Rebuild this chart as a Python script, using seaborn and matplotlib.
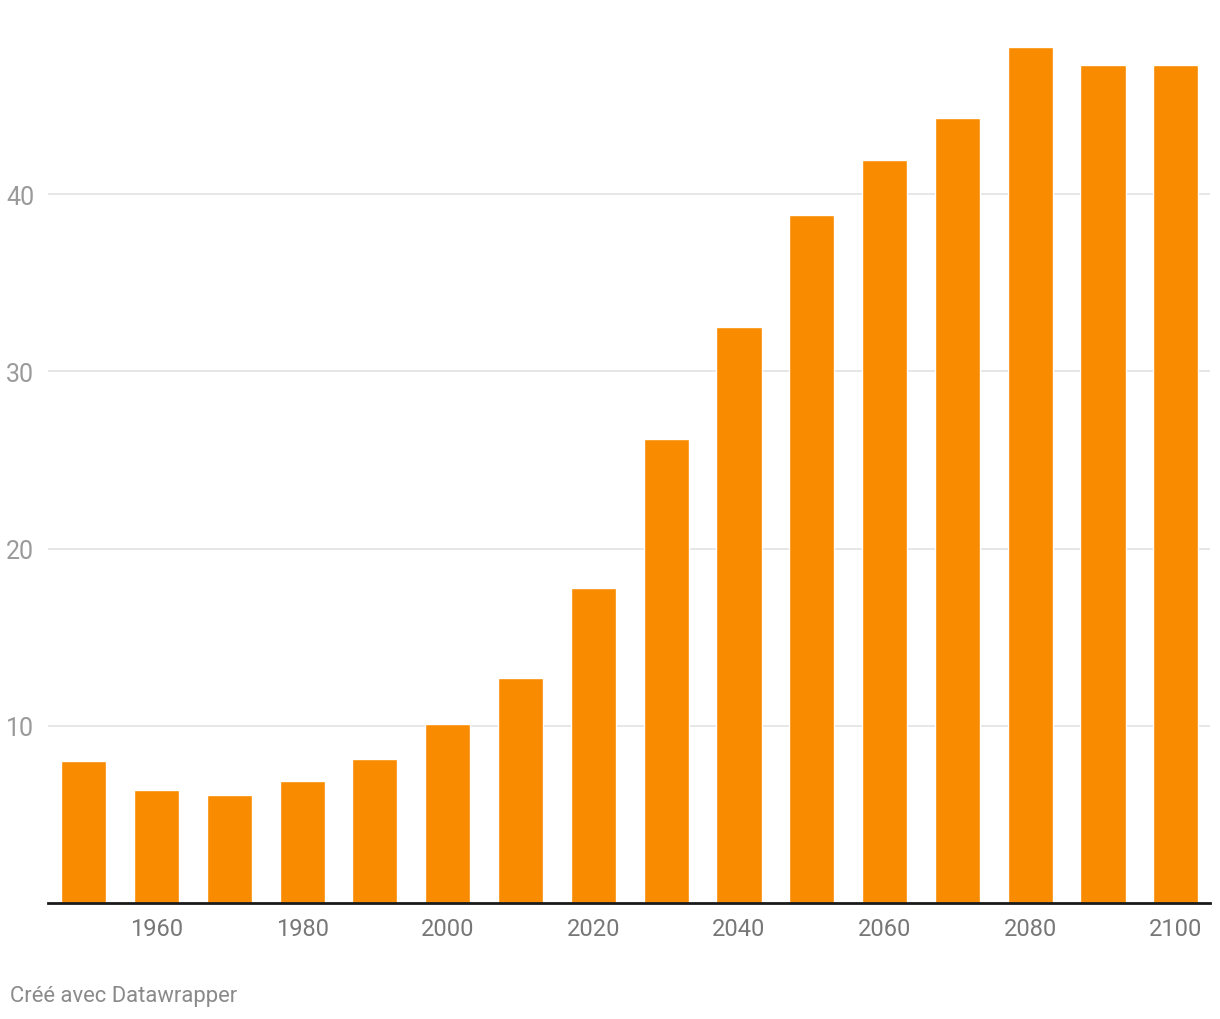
import matplotlib.pyplot as plt
import seaborn as sns
import pandas as pd

# Data
years = [1950, 1960, 1970, 1980, 1990, 2000, 2010, 2020,
         2030, 2040, 2050, 2060, 2070, 2080, 2090, 2100]
values = [8.0, 6.4, 6.1, 6.9, 8.1, 10.1, 12.7, 17.8,
          26.2, 32.5, 38.8, 41.9, 44.3, 48.3, 47.3, 47.3]
y_ticks = [10, 20, 30, 40]
footer = "Créé avec Datawrapper"

df = pd.DataFrame({"year": [str(y) for y in years], "value": values})

sns.set_style("white")
plt.rcParams['font.family'] = ['Roboto', 'DejaVu Sans']

fig = plt.figure(figsize=(12.2, 10.2), dpi=100)
ax = fig.add_axes([48 / 1220, 116 / 1020, 1162 / 1220, 864 / 1020])

sns.barplot(data=df, x="year", y="value", color="#f98b00",
            saturation=1, width=0.62, ax=ax, zorder=3)

ax.set_xlim(-0.49, 15.47)
ax.set_ylim(0, 48.75)

# gridlines
ax.set_yticks(y_ticks)
ax.yaxis.grid(True, color="#e2e2e2", linewidth=1.2, zorder=0)
ax.tick_params(axis="y", length=0, pad=10, labelsize=18,
               labelcolor="#9a9a9a")

# x labels only on even decades
ax.set_xticks(range(len(years)))
ax.set_xticklabels([str(y) if y % 20 == 0 else "" for y in years])
ax.tick_params(axis="x", length=0, pad=10, labelsize=17,
               labelcolor="#777777")

for side in ["top", "right", "left"]:
    ax.spines[side].set_visible(False)
ax.spines["bottom"].set_color("#1a1a1a")
ax.spines["bottom"].set_linewidth(2)
ax.spines["bottom"].set_zorder(4)

ax.set_xlabel("")
ax.set_ylabel("")

fig.text(10 / 1220, 1 - 997 / 1020, footer, fontsize=15.8,
         color="#8a8a8a", ha="left", va="center")

fig.savefig("out.png", dpi=100, facecolor="white")
